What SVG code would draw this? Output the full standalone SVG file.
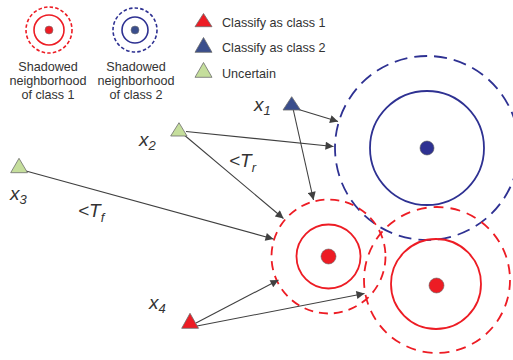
<svg xmlns="http://www.w3.org/2000/svg" width="513" height="360" viewBox="0 0 513 360">
<style>
.t{font-family:"Liberation Sans",Arial,sans-serif;fill:#333}
.lg{font-size:12.6px}
.cen{text-anchor:middle}
.var{font-size:19px;font-style:italic}
.sub{font-size:13px;font-style:italic}
.red{stroke:#ED1C24;fill:none}
.blue{stroke:#2E3192;fill:none}
.con{stroke:#404040;stroke-width:1.1;fill:none;marker-end:url(#ah)}
.tri{stroke:#6d6d6d;stroke-width:0.8}
</style>
<defs>
<marker id="ah" viewBox="0 0 10 10" refX="10" refY="5" markerWidth="10" markerHeight="8" markerUnits="userSpaceOnUse" orient="auto">
<path d="M0,0 L10,5 L0,10 z" fill="#404040"/>
</marker>
</defs>
<rect width="513" height="360" fill="#fff"/>

<g id="legend">
  <g id="legend-class1">
    <circle cx="49" cy="30" r="23" class="red" stroke-width="1.6" stroke-dasharray="3.5,2.2"/>
    <circle cx="49" cy="30" r="15" class="red" stroke-width="1.6"/>
    <circle cx="49" cy="30" r="4" fill="#ED1C24" stroke="#777" stroke-width="0.6"/>
    <text class="t lg cen" x="48" y="71">Shadowed</text>
    <text class="t lg cen" x="48" y="85">neighborhood</text>
    <text class="t lg cen" x="48" y="99">of class 1</text>
  </g>
  <g id="legend-class2">
    <circle cx="135" cy="30" r="22" class="blue" stroke-width="1.6" stroke-dasharray="3.5,2.2"/>
    <circle cx="135" cy="30" r="13" class="blue" stroke-width="1.6"/>
    <circle cx="135" cy="30" r="4" fill="#3A4E8C" stroke="#777" stroke-width="0.6"/>
    <text class="t lg cen" x="136" y="71">Shadowed</text>
    <text class="t lg cen" x="136" y="85">neighborhood</text>
    <text class="t lg cen" x="136" y="99">of class 2</text>
  </g>
  <g id="legend-tri">
    <polygon class="tri" points="203.5,13.5 195,26.7 212,26.7" fill="#ED1C24"/>
    <text class="t lg" x="222" y="27">Classify as class 1</text>
    <polygon class="tri" points="203.5,37.5 195,52.3 212,52.3" fill="#3A4E8C"/>
    <text class="t lg" x="222" y="52">Classify as class 2</text>
    <polygon class="tri" points="203.5,62.5 195,77.3 212,77.3" fill="#C5DE9C"/>
    <text class="t lg" x="222" y="78">Uncertain</text>
  </g>
</g>

<g id="class2-region">
  <circle cx="427" cy="148" r="92" class="blue" stroke-width="1.8" stroke-dasharray="13,7"/>
  <circle cx="427" cy="148" r="57" class="blue" stroke-width="1.8"/>
  <circle cx="427" cy="148" r="7" fill="#2E3192" stroke="#555" stroke-width="0.6"/>
</g>

<g id="class1-region-a">
  <circle cx="328.5" cy="256.5" r="57" class="red" stroke-width="1.8" stroke-dasharray="9,6"/>
  <circle cx="328.5" cy="256.5" r="32" class="red" stroke-width="1.8"/>
  <circle cx="328.5" cy="256.5" r="7.5" fill="#ED1C24" stroke="#666" stroke-width="0.6"/>
</g>

<g id="class1-region-b">
  <circle cx="437" cy="280" r="73" class="red" stroke-width="1.8" stroke-dasharray="10,7"/>
  <circle cx="436" cy="284" r="45" class="red" stroke-width="1.8"/>
  <circle cx="436.5" cy="285.5" r="7.5" fill="#ED1C24" stroke="#666" stroke-width="0.6"/>
</g>

<g id="connectors">
  <line class="con" x1="297" y1="109" x2="338" y2="121.5"/>
  <line class="con" x1="292" y1="104" x2="313.5" y2="200"/>
  <line class="con" x1="186" y1="131.5" x2="333.5" y2="146.5"/>
  <line class="con" x1="183" y1="134" x2="283.5" y2="218.5"/>
  <line class="con" x1="26" y1="171" x2="273.5" y2="239"/>
  <line class="con" x1="196" y1="323" x2="278.5" y2="280"/>
  <line class="con" x1="197" y1="326" x2="364.5" y2="293.5"/>
</g>

<g id="x1">
  <polygon class="tri" points="291.7,96.7 283,110 300.5,110" fill="#3A4E8C"/>
  <text class="t var" x="254" y="111">x<tspan class="sub" dy="4">1</tspan></text>
</g>
<g id="x2">
  <polygon class="tri" points="179,122.7 170.7,136 187,136" fill="#C5DE9C"/>
  <text class="t var" x="139" y="146">x<tspan class="sub" dy="4">2</tspan></text>
</g>
<g id="x3">
  <polygon class="tri" points="19,158.3 10.7,172.7 27.5,172.7" fill="#C5DE9C"/>
  <text class="t var" x="10" y="200">x<tspan class="sub" dy="4">3</tspan></text>
</g>
<g id="x4">
  <polygon class="tri" points="190,313.3 181.7,328.3 198.5,328.3" fill="#ED1C24"/>
  <text class="t var" x="149" y="309">x<tspan class="sub" dy="4">4</tspan></text>
</g>

<g id="labels">
  <text class="t var" x="229" y="167">&lt;T<tspan class="sub" dy="5">r</tspan></text>
  <text class="t var" x="78" y="217">&lt;T<tspan class="sub" dy="5">f</tspan></text>
</g>
</svg>
